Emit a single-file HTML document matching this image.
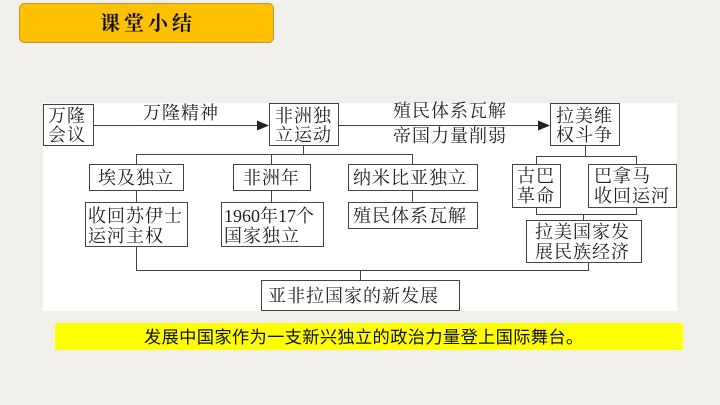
<!DOCTYPE html>
<html><head><meta charset="utf-8"><style>
html,body{margin:0;padding:0;background:#f1efea;}
svg{display:block}
</style></head><body>
<svg width="720" height="405" xmlns="http://www.w3.org/2000/svg" font-family="'Liberation Serif','Noto Serif CJK SC',serif" font-size="18" letter-spacing="1" fill="#222">
<rect x="0" y="0" width="720" height="405" fill="#f1efea"/>
<rect x="19.5" y="3.5" width="254" height="39" rx="5" fill="#ffc000" stroke="#b39a4a"/>
<text x="148" y="30" text-anchor="middle" font-size="20" font-weight="bold" fill="#111" letter-spacing="4">课堂小结</text>
<rect x="43" y="103" width="634" height="208" fill="#fff"/>
<g stroke="#444" stroke-width="1" fill="none">
<rect x="43.5" y="104.5" width="50" height="41"/>
<rect x="269.5" y="103.5" width="69" height="42"/>
<rect x="550.5" y="103.5" width="69" height="42"/>
<rect x="89.5" y="164.5" width="94" height="26"/>
<rect x="233.5" y="164.5" width="77" height="26"/>
<rect x="348.5" y="164.5" width="129" height="26"/>
<rect x="85.5" y="202.5" width="102" height="44"/>
<rect x="221.5" y="202.5" width="102" height="44"/>
<rect x="348.5" y="202.5" width="129" height="26"/>
<rect x="512.5" y="164.5" width="48" height="43"/>
<rect x="588.5" y="164.5" width="88" height="43"/>
<rect x="526.5" y="220.5" width="115" height="42"/>
<rect x="261.5" y="280.5" width="198" height="30"/>
<path d="M93 125.5H262 M338 125.5H544 M303.5 145V154.5 M136.5 164V154.5H412.5V164 M271.5 154.5V164 M136.5 190V202 M271.5 190V202 M412.5 190V202 M585.5 145V156.5 M536.5 164V156.5H636.5V164 M536.5 207V214.5H636.5V207 M583.5 214V220 M136.5 246V270.5H588.5V262 M360.5 270V280"/>
</g>
<path d="M269 125.5L257 120.5V130.5Z M550 125.5L538 120.5V130.5Z" fill="#222"/>
<g>
<text x="48" y="122">万隆</text>
<text x="48" y="141">会议</text>
<text x="143" y="119">万隆精神</text>
<text x="275" y="122">非洲独</text>
<text x="275" y="141">立运动</text>
<text x="393" y="117">殖民体系瓦解</text>
<text x="393" y="142">帝国力量削弱</text>
<text x="556" y="122">拉美维</text>
<text x="556" y="141">权斗争</text>
<text x="98" y="184">埃及独立</text>
<text x="243" y="184">非洲年</text>
<text x="353" y="184">纳米比亚独立</text>
<text x="353" y="222">殖民体系瓦解</text>
<text x="88" y="222">收回苏伊士</text>
<text x="88" y="242">运河主权</text>
<text x="224" y="222" letter-spacing="0">1960年17个</text>
<text x="224" y="242">国家独立</text>
<text x="517" y="182">古巴</text>
<text x="517" y="202">革命</text>
<text x="594" y="182">巴拿马</text>
<text x="594" y="202">收回运河</text>
<text x="535" y="238">拉美国家发</text>
<text x="535" y="258">展民族经济</text>
<text x="268" y="302">亚非拉国家的新发展</text>
</g>
<rect x="55" y="323" width="628" height="27" fill="#ffff00"/>
<text x="144" y="343" letter-spacing="0.3" font-family="'Liberation Sans','Noto Sans CJK SC',sans-serif" font-size="17.3" fill="#111">发展中国家作为一支新兴独立的政治力量登上国际舞台。</text>
</svg>
</body></html>
